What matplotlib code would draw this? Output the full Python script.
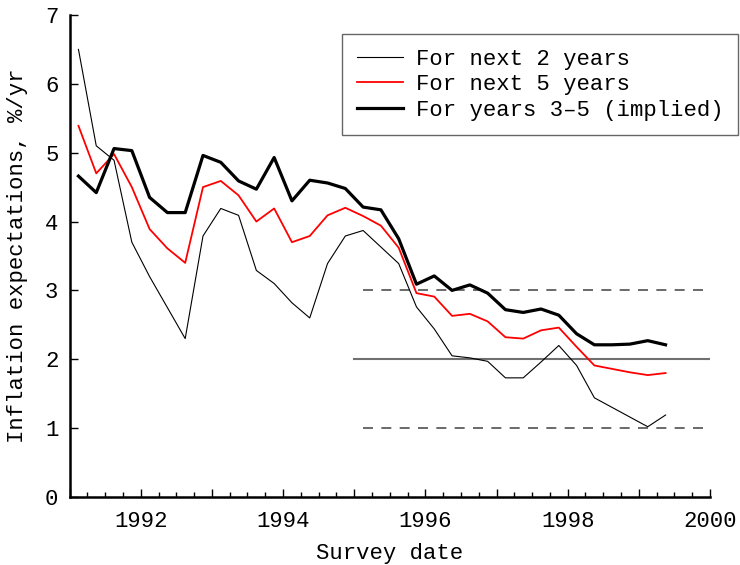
import numpy as np
import matplotlib
matplotlib.use("Agg")
import matplotlib.pyplot as plt
from matplotlib.ticker import MultipleLocator, FuncFormatter

# Survey dates: quarterly from Feb 1991
start_year = 1991.125
n_points = 34
dates = start_year + 0.25 * np.arange(n_points)

next2 = [6.50, 5.10, 4.89, 3.70, 3.20, 2.75, 2.30, 3.79, 4.19, 4.09,
         3.29, 3.10, 2.82, 2.60, 3.39, 3.79, 3.87, 3.63, 3.39, 2.76,
         2.44, 2.05, 2.02, 1.97, 1.73, 1.73, 1.96, 2.20, 1.91, 1.44,
         1.30, 1.16, 1.02, 1.19]
next5 = [5.39, 4.70, 4.98, 4.50, 3.89, 3.61, 3.40, 4.50, 4.59, 4.38,
         4.00, 4.19, 3.70, 3.79, 4.09, 4.20, 4.08, 3.94, 3.62, 2.96,
         2.91, 2.63, 2.66, 2.55, 2.32, 2.30, 2.42, 2.46, 2.18, 1.91,
         1.86, 1.81, 1.77, 1.80]
years35 = [4.66, 4.42, 5.06, 5.03, 4.35, 4.13, 4.13, 4.96, 4.86, 4.59,
           4.47, 4.93, 4.30, 4.60, 4.56, 4.48, 4.21, 4.17, 3.75, 3.09,
           3.21, 3.00, 3.08, 2.96, 2.72, 2.68, 2.73, 2.64, 2.37, 2.21,
           2.21, 2.22, 2.27, 2.21]

labels = ["For next 2 years", "For next 5 years", "For years 3\u20135 (implied)"]

target = 2.0
band_lo, band_hi = 1.0, 3.0
target_start = 1995.0
band_start = 1995.125
ref_end = 2000.0

plt.rcParams['font.family'] = ['Liberation Mono', 'DejaVu Sans Mono']

fig = plt.figure(figsize=(7.4, 5.65), dpi=100)
ax = fig.add_axes([0.094, 0.1204, 0.8655, 0.8531])

ax.plot([target_start, ref_end], [target, target], color='#707070', lw=1.5, zorder=1)
ax.plot([band_start, ref_end], [band_hi, band_hi], color='#505050', lw=1.2,
        dashes=(6, 5), zorder=1)
ax.plot([band_start, ref_end], [band_lo, band_lo], color='#505050', lw=1.2,
        dashes=(6, 5), zorder=1)

ax.plot(dates, next2, color='black', lw=0.8, label=labels[0], zorder=3)
ax.plot(dates, next5, color='#ff0000', lw=1.3, label=labels[1], zorder=3)
ax.plot(dates, years35, color='black', lw=2.3, label=labels[2], zorder=3)

ax.set_xlim(1991.0, 2000.0)
ax.set_ylim(0, 7)

for s in ['top', 'right']:
    ax.spines[s].set_visible(False)
for s in ['left', 'bottom']:
    ax.spines[s].set_linewidth(1.8)

ax.xaxis.set_major_locator(MultipleLocator(1))
ax.xaxis.set_minor_locator(MultipleLocator(0.25))
ax.xaxis.set_major_formatter(FuncFormatter(lambda v, p: f"{int(round(v))}" if int(round(v)) % 2 == 0 else ""))
ax.yaxis.set_major_locator(MultipleLocator(1))
ax.tick_params(axis='both', which='major', direction='in', length=6, width=1,
               labelsize=16)
ax.tick_params(axis='x', which='major', pad=10)
ax.tick_params(axis='x', which='minor', direction='in', length=3.5, width=1)
ax.tick_params(axis='y', which='major', pad=8)

ax.set_xlabel("Survey date", fontsize=16, labelpad=8)
ax.set_ylabel("Inflation expectations, %/yr", fontsize=16, labelpad=12)

leg = ax.legend(loc='upper right', bbox_to_anchor=(1.043, 0.96), fontsize=16,
                frameon=True, fancybox=False, edgecolor='#404040',
                handlelength=2.1, handletextpad=0.55, labelspacing=0.2,
                borderpad=0.65, borderaxespad=0.0)
leg.get_frame().set_linewidth(1.0)

fig.savefig("out.png", dpi=100)
